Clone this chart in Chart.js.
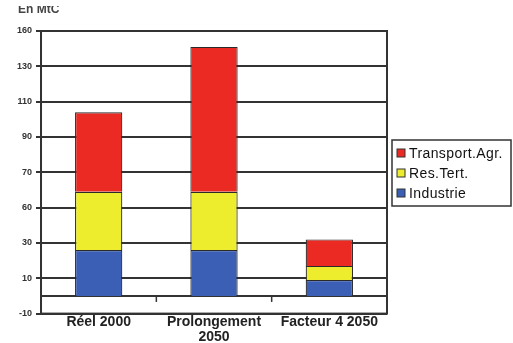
<!DOCTYPE html>
<html>
<head>
<meta charset="utf-8">
<script src="https://cdn.jsdelivr.net/npm/chart.js@4/dist/chart.umd.min.js"></script>
<style>
  html, body { margin: 0; padding: 0; background: #fff; }
  #wrap { width: 513px; height: 343px; position: relative; }
</style>
</head>
<body>
<div id="wrap"><canvas id="chart"></canvas></div>
<script>
// --- données ---
const categories = [['Réel 2000'], ['Prolongement', '2050'], ['Facteur 4 2050']];
const industrie = [26, 26, 9];
const resTert = [33, 33, 8];
const transport = [45, 82, 15];
// valeurs des graduations et libellés tels qu'ils apparaissent
const tickValues = [-10, 10, 30, 50, 70, 90, 110, 130, 150];
const tickLabels = ['-10', '10', '30', '60', '70', '90', '110', '130', '160'];
const unitLabel = 'En MtC';

const FONT = "'Liberation Sans', Arial, sans-serif";

// cadre, ligne du zéro, petits repères et légende encadrée
const decor = {
  id: 'decor',
  beforeDatasetsDraw(chart) {
    const { ctx, chartArea: a, scales } = chart;
    const y0 = scales.y.getPixelForValue(0);
    ctx.save();
    ctx.strokeStyle = '#333';
    ctx.lineWidth = 2;
    ctx.beginPath();
    ctx.moveTo(a.left, y0);
    ctx.lineTo(a.right, y0);
    ctx.stroke();
    // repères entre catégories
    ctx.lineWidth = 1.5;
    const n = categories.length;
    for (let i = 1; i < n; i++) {
      const x = a.left + (a.right - a.left) * i / n;
      ctx.beginPath();
      ctx.moveTo(x, y0);
      ctx.lineTo(x, y0 + 6);
      ctx.stroke();
    }
    ctx.restore();
  },
  afterDraw(chart) {
    const { ctx, chartArea: a } = chart;
    ctx.save();
    ctx.strokeStyle = '#333';
    ctx.lineWidth = 2;
    ctx.strokeRect(a.left, a.top, a.right - a.left, a.bottom - a.top);

    // unité en haut à gauche (coupée par le bord de l'image d'origine)
    ctx.save();
    ctx.beginPath();
    ctx.rect(0, 6, 120, 20);
    ctx.clip();
    ctx.fillStyle = '#444';
    ctx.font = 'bold 12px ' + FONT;
    ctx.textBaseline = 'alphabetic';
    ctx.fillText(unitLabel, 18, 13);
    ctx.restore();

    // légende
    const lx = 392, ly = 140, lw = 119, lh = 66;
    ctx.fillStyle = '#fff';
    ctx.fillRect(lx, ly, lw, lh);
    ctx.lineWidth = 1.5;
    ctx.strokeRect(lx, ly, lw, lh);
    const items = chart.data.datasets.slice().reverse();
    ctx.font = '14px ' + FONT;
    ctx.letterSpacing = '0.4px';
    ctx.textBaseline = 'middle';
    items.forEach((ds, i) => {
      const cy = ly + 13 + i * 20;
      ctx.fillStyle = ds.backgroundColor;
      ctx.fillRect(lx + 5, cy - 4, 8, 8);
      ctx.lineWidth = 1;
      ctx.strokeStyle = '#333';
      ctx.strokeRect(lx + 5, cy - 4, 8, 8);
      ctx.fillStyle = '#111';
      ctx.fillText(ds.label, lx + 17, cy + 1);
    });
    ctx.restore();
  }
};

const barStyle = {
  borderColor: '#2a2a2a',
  borderWidth: 1.2,
  barPercentage: 0.41,
  categoryPercentage: 1
};

new Chart(document.getElementById('chart'), {
  type: 'bar',
  data: {
    labels: categories,
    datasets: [
      { label: 'Industrie', data: industrie, backgroundColor: '#3b5fb5', ...barStyle },
      { label: 'Res.Tert.', data: resTert, backgroundColor: '#eded2e', ...barStyle },
      { label: 'Transport.Agr.', data: transport, backgroundColor: '#ec2a24', ...barStyle }
    ]
  },
  options: {
    responsive: true,
    maintainAspectRatio: false,
    animation: false,
    layout: { padding: { top: 31, right: 126, left: 13, bottom: -2 } },
    plugins: {
      legend: { display: false },
      tooltip: { enabled: false }
    },
    scales: {
      x: {
        stacked: true,
        grid: { display: false, drawTicks: false },
        border: { display: false },
        ticks: {
          color: '#222',
          font: { family: FONT, size: 14, weight: 'bold', lineHeight: 1.05 },
          padding: 1,
          maxRotation: 0
        }
      },
      y: {
        stacked: true,
        min: -10,
        max: 150,
        afterBuildTicks: (scale) => {
          scale.ticks = tickValues.map(v => ({ value: v }));
        },
        grid: { color: '#333', lineWidth: 2, tickLength: 5 },
        border: { color: '#333', width: 2 },
        ticks: {
          color: '#333',
          font: { family: FONT, size: 9, weight: 'bold' },
          padding: 4,
          callback: (v) => {
            const i = tickValues.indexOf(v);
            return i >= 0 ? tickLabels[i] : '';
          }
        }
      }
    }
  },
  plugins: [decor]
});
</script>
</body>
</html>
